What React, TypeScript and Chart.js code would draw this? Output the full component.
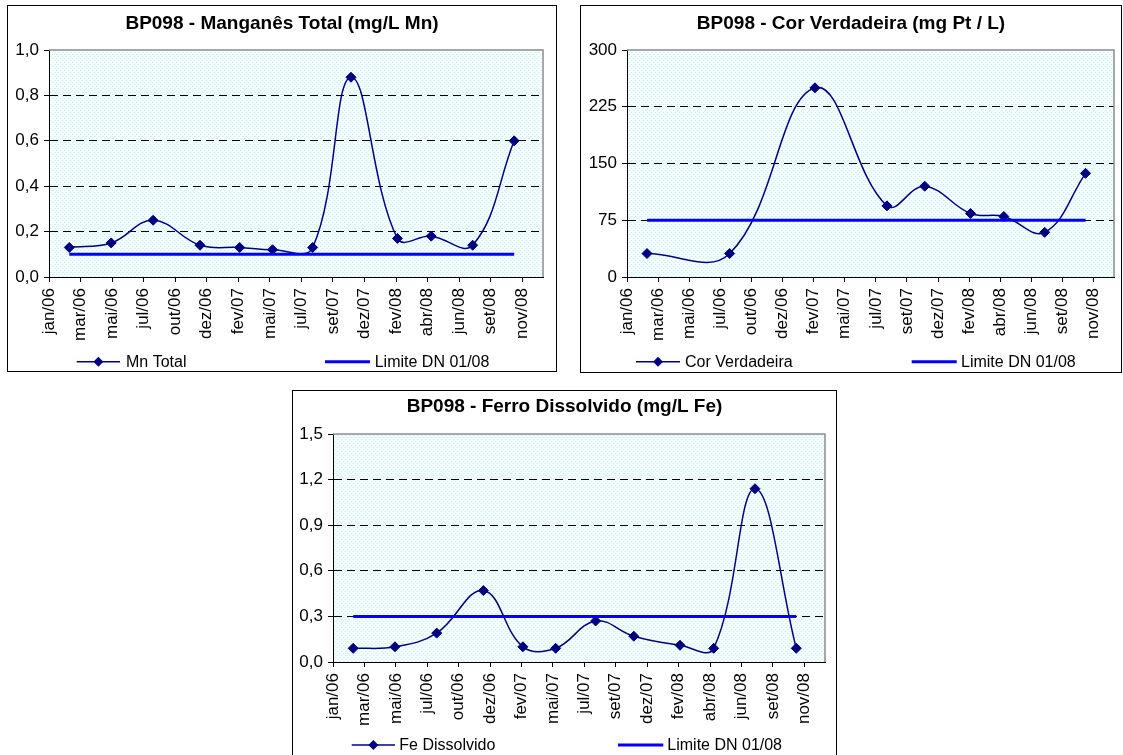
import React, { useEffect, useRef } from "react";
import { Chart, registerables } from "chart.js";

Chart.register(...registerables);

// ---------- data ----------
const axisStart = "2006-01-01";
const axisEnd = "2009-01-01";

const tickDates = [
  "2006-01-01", "2006-03-12", "2006-05-21", "2006-07-30", "2006-10-08", "2006-12-17",
  "2007-02-25", "2007-05-06", "2007-07-15", "2007-09-23", "2007-12-02", "2008-02-10",
  "2008-04-20", "2008-06-29", "2008-09-07", "2008-11-16",
];
const tickLabels = [
  "jan/06", "mar/06", "mai/06", "jul/06", "out/06", "dez/06",
  "fev/07", "mai/07", "jul/07", "set/07", "dez/07", "fev/08",
  "abr/08", "jun/08", "set/08", "nov/08",
];

const sampleDates = [
  "2006-02-15", "2006-05-19", "2006-08-20", "2006-12-02", "2007-02-28", "2007-05-12",
  "2007-08-09", "2007-11-02", "2008-02-13", "2008-04-28", "2008-07-29", "2008-10-29",
];

const mnTotal = [0.13, 0.15, 0.25, 0.14, 0.13, 0.12, 0.13, 0.88, 0.17, 0.18, 0.14, 0.6];
const corVerdadeira = [31, null, 31, null, 250, null, 94, 120, 84, 80, 59, 137];
const feDissolvido = [0.09, 0.1, 0.19, 0.47, 0.1, 0.09, 0.27, 0.17, 0.11, 0.09, 1.14, 0.09];

const mnLimit = 0.1;
const corLimit = 75;
const feLimit = 0.3;

const mnYTicks = [0, 0.2, 0.4, 0.6, 0.8, 1.0];
const corYTicks = [0, 75, 150, 225, 300];
const feYTicks = [0, 0.3, 0.6, 0.9, 1.2, 1.5];

// ---------- styling ----------
const NAVY = "#000080";
const BLUE = "#0000FF";
const FONT = "'Liberation Sans', Arial, Helvetica, sans-serif";

function dayOf(s: string): number {
  const [y, m, d] = s.split("-").map(Number);
  const [y0, m0, d0] = axisStart.split("-").map(Number);
  return (Date.UTC(y, m - 1, d) - Date.UTC(y0, m0 - 1, d0)) / 86400000;
}

type Spec = {
  title: string;
  seriesLabel: string;
  values: (number | null)[];
  limit: number;
  yTicks: number[];
  decimals: number;
  box: { left: number; top: number; width: number; height: number };
  yWidth: number;
  xHeight: number;
  padTop: number;
  padRight: number;
  padBottom: number;
  titleY: number;
  legendY: number;
  s1: [number, number];
  t1: number;
  s2: [number, number];
  t2: number;
};

const specs: Spec[] = [
  {
    title: "BP098 - Manganês Total (mg/L Mn)",
    seriesLabel: "Mn Total",
    values: mnTotal,
    limit: mnLimit,
    yTicks: mnYTicks,
    decimals: 1,
    box: { left: 7, top: 5, width: 550, height: 367 },
    yWidth: 41,
    xHeight: 80,
    padTop: 44,
    padRight: 13,
    padBottom: 14,
    titleY: 17.5,
    legendY: 355.7,
    s1: [68.7, 112],
    t1: 118,
    s2: [317, 362],
    t2: 366.7,
  },
  {
    title: "BP098 - Cor Verdadeira (mg Pt / L)",
    seriesLabel: "Cor Verdadeira",
    values: corVerdadeira,
    limit: corLimit,
    yTicks: corYTicks,
    decimals: 0,
    box: { left: 580, top: 5, width: 542, height: 368 },
    yWidth: 46,
    xHeight: 80,
    padTop: 44,
    padRight: 7,
    padBottom: 15,
    titleY: 17.5,
    legendY: 355.7,
    s1: [55, 99],
    t1: 104,
    s2: [330.7, 375.7],
    t2: 380,
  },
  {
    title: "BP098 - Ferro Dissolvido (mg/L Fe)",
    seriesLabel: "Fe Dissolvido",
    values: feDissolvido,
    limit: feLimit,
    yTicks: feYTicks,
    decimals: 1,
    box: { left: 292, top: 390, width: 545, height: 375 },
    yWidth: 40,
    xHeight: 80,
    padTop: 43,
    padRight: 11,
    padBottom: 22,
    titleY: 16,
    legendY: 354,
    s1: [58.7, 102],
    t1: 106.3,
    s2: [325, 370.3],
    t2: 374.3,
  },
];

function makePattern(ctx: CanvasRenderingContext2D): CanvasPattern | string {
  const c = document.createElement("canvas");
  c.width = 4;
  c.height = 4;
  const p = c.getContext("2d");
  if (!p) return "#eafafb";
  p.fillStyle = "#f6fefe";
  p.fillRect(0, 0, 4, 4);
  p.fillStyle = "#c2f0f4";
  p.fillRect(0, 0, 1, 1);
  p.fillRect(2, 2, 1, 1);
  p.fillStyle = "#e2f8fa";
  p.fillRect(1, 0, 1, 1);
  p.fillRect(3, 2, 1, 1);
  return ctx.createPattern(c, "repeat") || "#eafafb";
}

function fmt(v: number, decimals: number): string {
  return v.toFixed(decimals).replace(".", ",");
}

function drawDiamond(ctx: CanvasRenderingContext2D, x: number, y: number, r: number) {
  ctx.beginPath();
  ctx.moveTo(x, y - r);
  ctx.lineTo(x + r, y);
  ctx.lineTo(x, y + r);
  ctx.lineTo(x - r, y);
  ctx.closePath();
  ctx.fill();
}

function buildConfig(spec: Spec, pattern: CanvasPattern | string): any {
  const tickDays = tickDates.map(dayOf);
  const seriesPoints = sampleDates
    .map((d, i) => ({ x: dayOf(d), y: spec.values[i] }))
    .filter((p) => p.y !== null && p.y !== undefined);
  const limitPoints = sampleDates.map((d) => ({ x: dayOf(d), y: spec.limit }));
  const yMin = spec.yTicks[0];
  const yMax = spec.yTicks[spec.yTicks.length - 1];

  const decor = {
    id: "decor",
    beforeDraw(chart: any) {
      const { ctx, chartArea: a } = chart;
      ctx.save();
      ctx.fillStyle = pattern;
      ctx.fillRect(a.left, a.top, a.right - a.left, a.bottom - a.top);
      ctx.restore();
    },
    beforeDatasetsDraw(chart: any) {
      const { ctx, chartArea: a } = chart;
      ctx.save();
      ctx.strokeStyle = "#8c8c8c";
      ctx.lineWidth = 1.5;
      ctx.beginPath();
      ctx.moveTo(a.left, a.top);
      ctx.lineTo(a.right, a.top);
      ctx.lineTo(a.right, a.bottom);
      ctx.stroke();
      ctx.restore();
    },
    afterDraw(chart: any) {
      const { ctx, width } = chart;
      ctx.save();
      ctx.fillStyle = "#000";
      ctx.font = `bold 19px ${FONT}`;
      ctx.textAlign = "center";
      ctx.textBaseline = "middle";
      ctx.fillText(spec.title, width / 2, spec.titleY);

      // legend
      const ly = spec.legendY;
      ctx.strokeStyle = NAVY;
      ctx.lineWidth = 1.5;
      ctx.beginPath();
      ctx.moveTo(spec.s1[0], ly);
      ctx.lineTo(spec.s1[1], ly);
      ctx.stroke();
      ctx.fillStyle = NAVY;
      drawDiamond(ctx, (spec.s1[0] + spec.s1[1]) / 2, ly, 5);

      ctx.strokeStyle = BLUE;
      ctx.lineWidth = 3;
      ctx.beginPath();
      ctx.moveTo(spec.s2[0], ly);
      ctx.lineTo(spec.s2[1], ly);
      ctx.stroke();

      ctx.fillStyle = "#000";
      ctx.font = `16px ${FONT}`;
      ctx.textAlign = "left";
      ctx.textBaseline = "middle";
      ctx.fillText(spec.seriesLabel, spec.t1, ly + 1);
      ctx.fillText("Limite DN 01/08", spec.t2, ly + 1);
      ctx.restore();
    },
  };

  return {
    type: "line",
    data: {
      datasets: [
        {
          label: "Limite DN 01/08",
          data: limitPoints,
          borderColor: BLUE,
          backgroundColor: BLUE,
          borderWidth: 3,
          pointRadius: 0,
          tension: 0,
          order: 0,
        },
        {
          label: spec.seriesLabel,
          data: seriesPoints,
          borderColor: NAVY,
          backgroundColor: NAVY,
          borderWidth: 1.5,
          pointStyle: "rectRot",
          pointRadius: 5,
          pointBackgroundColor: NAVY,
          pointBorderColor: NAVY,
          pointBorderWidth: 1,
          tension: 0.4,
          spanGaps: true,
          order: 1,
        },
      ],
    },
    options: {
      animation: false,
      responsive: false,
      devicePixelRatio: 1,
      events: [],
      layout: {
        padding: { left: 0, top: spec.padTop, right: spec.padRight, bottom: spec.padBottom },
      },
      plugins: {
        legend: { display: false },
        title: { display: false },
        tooltip: { enabled: false },
      },
      scales: {
        x: {
          type: "linear",
          min: dayOf(axisStart),
          max: dayOf(axisEnd),
          afterBuildTicks: (s: any) => {
            s.ticks = tickDays.map((v) => ({ value: v }));
          },
          afterFit: (s: any) => {
            s.height = spec.xHeight;
          },
          grid: {
            drawOnChartArea: false,
            drawTicks: true,
            tickLength: 5,
            tickColor: "#000",
            tickWidth: 1,
            tickBorderDash: [],
          },
          border: { display: true, color: "#000", width: 1 },
          ticks: {
            autoSkip: false,
            minRotation: 90,
            maxRotation: 90,
            padding: 6,
            color: "#000",
            font: { size: 17, family: FONT },
            callback: (_v: any, i: number) => tickLabels[i],
          },
        },
        y: {
          type: "linear",
          min: yMin,
          max: yMax,
          afterBuildTicks: (s: any) => {
            s.ticks = spec.yTicks.map((v) => ({ value: v }));
          },
          afterFit: (s: any) => {
            s.width = spec.yWidth;
          },
          grid: {
            drawOnChartArea: true,
            drawTicks: true,
            tickLength: 5,
            tickColor: "#000",
            tickWidth: 1,
            tickBorderDash: [],
            lineWidth: 1,
            color: (c: any) => {
              const v = c.tick ? c.tick.value : null;
              if (v === null || Math.abs(v - yMin) < 1e-9 || Math.abs(v - yMax) < 1e-9) return "rgba(0,0,0,0)";
              return "#000";
            },
          },
          border: { display: true, color: "#000", width: 1, dash: [8, 5] },
          ticks: {
            padding: 5,
            color: "#000",
            font: { size: 17, family: FONT },
            callback: (v: any) => fmt(Number(v), spec.decimals),
          },
        },
      },
    },
    plugins: [decor],
  };
}

function Panel({ spec }: { spec: Spec }) {
  const ref = useRef<HTMLCanvasElement>(null);
  useEffect(() => {
    const canvas = ref.current;
    if (!canvas) return;
    const ctx = canvas.getContext("2d");
    if (!ctx) return;
    const chart = new Chart(canvas, buildConfig(spec, makePattern(ctx)));
    return () => chart.destroy();
  }, [spec]);
  const { left, top, width, height } = spec.box;
  return (
    <div
      style={{
        position: "absolute",
        left,
        top,
        width,
        height,
        border: "1px solid #000",
        boxSizing: "border-box",
        background: "#fff",
        overflow: "hidden",
      }}
    >
      <canvas
        ref={ref}
        width={width - 2}
        height={height - 2}
        style={{ display: "block", width: width - 2, height: height - 2 }}
      />
    </div>
  );
}

export default function App() {
  return (
    <div
      style={{
        position: "absolute",
        left: 0,
        top: 0,
        width: 1123,
        height: 755,
        background: "#fff",
        overflow: "hidden",
      }}
    >
      {specs.map((s, i) => (
        <Panel key={i} spec={s} />
      ))}
    </div>
  );
}
